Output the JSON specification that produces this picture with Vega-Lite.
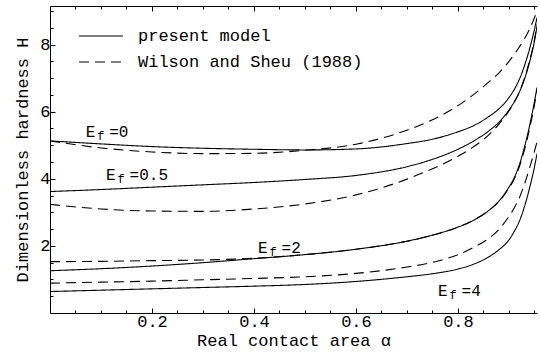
{
  "$schema": "https://vega.github.io/schema/vega-lite/v6.json",
  "width": 487,
  "height": 307,
  "autosize": {"type": "none"},
  "padding": {"left": 50, "top": 6, "right": 3, "bottom": 47},
  "background": "white",
  "config": {
    "view": {"stroke": null},
    "font": "Liberation Mono",
    "axis": {
      "grid": false,
      "domainColor": "black",
      "domainWidth": 1,
      "tickColor": "black",
      "tickWidth": 1,
      "labelColor": "black",
      "titleColor": "black",
      "labelFont": "Liberation Mono",
      "titleFont": "Liberation Mono",
      "labelFontSize": 17,
      "titleFontSize": 17,
      "titleFontWeight": "normal"
    },
    "text": {"font": "Liberation Mono", "fontSize": 16, "color": "black"}
  },
  "datasets": {
    "curves": [
      {"Ef": "0", "model": "present model", "a": 0, "H": 5.13},
      {"Ef": "0", "model": "present model", "a": 0.1, "H": 5.04},
      {"Ef": "0", "model": "present model", "a": 0.2, "H": 4.96},
      {"Ef": "0", "model": "present model", "a": 0.3, "H": 4.91},
      {"Ef": "0", "model": "present model", "a": 0.4, "H": 4.88},
      {"Ef": "0", "model": "present model", "a": 0.5, "H": 4.86},
      {"Ef": "0", "model": "present model", "a": 0.6, "H": 4.89},
      {"Ef": "0", "model": "present model", "a": 0.7, "H": 5.05},
      {"Ef": "0", "model": "present model", "a": 0.75, "H": 5.18},
      {"Ef": "0", "model": "present model", "a": 0.8, "H": 5.4},
      {"Ef": "0", "model": "present model", "a": 0.83, "H": 5.58},
      {"Ef": "0", "model": "present model", "a": 0.86, "H": 5.85},
      {"Ef": "0", "model": "present model", "a": 0.88, "H": 6.08},
      {"Ef": "0", "model": "present model", "a": 0.9, "H": 6.42},
      {"Ef": "0", "model": "present model", "a": 0.91, "H": 6.65},
      {"Ef": "0", "model": "present model", "a": 0.92, "H": 6.95},
      {"Ef": "0", "model": "present model", "a": 0.93, "H": 7.35},
      {"Ef": "0", "model": "present model", "a": 0.94, "H": 7.85},
      {"Ef": "0", "model": "present model", "a": 0.95, "H": 8.45},
      {"Ef": "0", "model": "present model", "a": 0.955, "H": 8.8},

      {"Ef": "0", "model": "Wilson and Sheu (1988)", "a": 0, "H": 5.13},
      {"Ef": "0", "model": "Wilson and Sheu (1988)", "a": 0.1, "H": 4.92},
      {"Ef": "0", "model": "Wilson and Sheu (1988)", "a": 0.2, "H": 4.8},
      {"Ef": "0", "model": "Wilson and Sheu (1988)", "a": 0.3, "H": 4.75},
      {"Ef": "0", "model": "Wilson and Sheu (1988)", "a": 0.4, "H": 4.76},
      {"Ef": "0", "model": "Wilson and Sheu (1988)", "a": 0.5, "H": 4.85},
      {"Ef": "0", "model": "Wilson and Sheu (1988)", "a": 0.6, "H": 5.03},
      {"Ef": "0", "model": "Wilson and Sheu (1988)", "a": 0.7, "H": 5.45},
      {"Ef": "0", "model": "Wilson and Sheu (1988)", "a": 0.75, "H": 5.76},
      {"Ef": "0", "model": "Wilson and Sheu (1988)", "a": 0.8, "H": 6.18},
      {"Ef": "0", "model": "Wilson and Sheu (1988)", "a": 0.83, "H": 6.5},
      {"Ef": "0", "model": "Wilson and Sheu (1988)", "a": 0.86, "H": 6.88},
      {"Ef": "0", "model": "Wilson and Sheu (1988)", "a": 0.88, "H": 7.15},
      {"Ef": "0", "model": "Wilson and Sheu (1988)", "a": 0.9, "H": 7.5},
      {"Ef": "0", "model": "Wilson and Sheu (1988)", "a": 0.91, "H": 7.7},
      {"Ef": "0", "model": "Wilson and Sheu (1988)", "a": 0.92, "H": 7.92},
      {"Ef": "0", "model": "Wilson and Sheu (1988)", "a": 0.93, "H": 8.16},
      {"Ef": "0", "model": "Wilson and Sheu (1988)", "a": 0.94, "H": 8.45},
      {"Ef": "0", "model": "Wilson and Sheu (1988)", "a": 0.95, "H": 8.8},
      {"Ef": "0", "model": "Wilson and Sheu (1988)", "a": 0.955, "H": 9.0},

      {"Ef": "0.5", "model": "present model", "a": 0, "H": 3.62},
      {"Ef": "0.5", "model": "present model", "a": 0.1, "H": 3.68},
      {"Ef": "0.5", "model": "present model", "a": 0.2, "H": 3.75},
      {"Ef": "0.5", "model": "present model", "a": 0.3, "H": 3.82},
      {"Ef": "0.5", "model": "present model", "a": 0.4, "H": 3.89},
      {"Ef": "0.5", "model": "present model", "a": 0.5, "H": 3.98},
      {"Ef": "0.5", "model": "present model", "a": 0.6, "H": 4.1},
      {"Ef": "0.5", "model": "present model", "a": 0.7, "H": 4.36},
      {"Ef": "0.5", "model": "present model", "a": 0.75, "H": 4.58},
      {"Ef": "0.5", "model": "present model", "a": 0.8, "H": 4.88},
      {"Ef": "0.5", "model": "present model", "a": 0.83, "H": 5.12},
      {"Ef": "0.5", "model": "present model", "a": 0.86, "H": 5.42},
      {"Ef": "0.5", "model": "present model", "a": 0.88, "H": 5.68},
      {"Ef": "0.5", "model": "present model", "a": 0.9, "H": 6.05},
      {"Ef": "0.5", "model": "present model", "a": 0.91, "H": 6.28},
      {"Ef": "0.5", "model": "present model", "a": 0.92, "H": 6.57},
      {"Ef": "0.5", "model": "present model", "a": 0.93, "H": 6.95},
      {"Ef": "0.5", "model": "present model", "a": 0.94, "H": 7.45},
      {"Ef": "0.5", "model": "present model", "a": 0.95, "H": 8.1},
      {"Ef": "0.5", "model": "present model", "a": 0.955, "H": 8.55},

      {"Ef": "0.5", "model": "Wilson and Sheu (1988)", "a": 0, "H": 3.24},
      {"Ef": "0.5", "model": "Wilson and Sheu (1988)", "a": 0.1, "H": 3.1},
      {"Ef": "0.5", "model": "Wilson and Sheu (1988)", "a": 0.2, "H": 3.04},
      {"Ef": "0.5", "model": "Wilson and Sheu (1988)", "a": 0.3, "H": 3.03},
      {"Ef": "0.5", "model": "Wilson and Sheu (1988)", "a": 0.4, "H": 3.1},
      {"Ef": "0.5", "model": "Wilson and Sheu (1988)", "a": 0.5, "H": 3.25},
      {"Ef": "0.5", "model": "Wilson and Sheu (1988)", "a": 0.6, "H": 3.52},
      {"Ef": "0.5", "model": "Wilson and Sheu (1988)", "a": 0.7, "H": 3.99},
      {"Ef": "0.5", "model": "Wilson and Sheu (1988)", "a": 0.75, "H": 4.3},
      {"Ef": "0.5", "model": "Wilson and Sheu (1988)", "a": 0.8, "H": 4.67},
      {"Ef": "0.5", "model": "Wilson and Sheu (1988)", "a": 0.83, "H": 4.95},
      {"Ef": "0.5", "model": "Wilson and Sheu (1988)", "a": 0.86, "H": 5.3},
      {"Ef": "0.5", "model": "Wilson and Sheu (1988)", "a": 0.88, "H": 5.62},
      {"Ef": "0.5", "model": "Wilson and Sheu (1988)", "a": 0.9, "H": 6.02},
      {"Ef": "0.5", "model": "Wilson and Sheu (1988)", "a": 0.91, "H": 6.27},
      {"Ef": "0.5", "model": "Wilson and Sheu (1988)", "a": 0.92, "H": 6.58},
      {"Ef": "0.5", "model": "Wilson and Sheu (1988)", "a": 0.93, "H": 6.98},
      {"Ef": "0.5", "model": "Wilson and Sheu (1988)", "a": 0.94, "H": 7.5},
      {"Ef": "0.5", "model": "Wilson and Sheu (1988)", "a": 0.95, "H": 8.15},
      {"Ef": "0.5", "model": "Wilson and Sheu (1988)", "a": 0.955, "H": 8.6},

      {"Ef": "2", "model": "present model", "a": 0, "H": 1.26},
      {"Ef": "2", "model": "present model", "a": 0.1, "H": 1.32},
      {"Ef": "2", "model": "present model", "a": 0.2, "H": 1.4},
      {"Ef": "2", "model": "present model", "a": 0.3, "H": 1.5},
      {"Ef": "2", "model": "present model", "a": 0.4, "H": 1.62},
      {"Ef": "2", "model": "present model", "a": 0.5, "H": 1.74},
      {"Ef": "2", "model": "present model", "a": 0.6, "H": 1.9},
      {"Ef": "2", "model": "present model", "a": 0.7, "H": 2.14},
      {"Ef": "2", "model": "present model", "a": 0.75, "H": 2.32},
      {"Ef": "2", "model": "present model", "a": 0.8, "H": 2.56},
      {"Ef": "2", "model": "present model", "a": 0.83, "H": 2.76},
      {"Ef": "2", "model": "present model", "a": 0.86, "H": 3.05},
      {"Ef": "2", "model": "present model", "a": 0.88, "H": 3.33},
      {"Ef": "2", "model": "present model", "a": 0.9, "H": 3.75},
      {"Ef": "2", "model": "present model", "a": 0.91, "H": 4.02},
      {"Ef": "2", "model": "present model", "a": 0.92, "H": 4.4},
      {"Ef": "2", "model": "present model", "a": 0.93, "H": 4.92},
      {"Ef": "2", "model": "present model", "a": 0.94, "H": 5.55},
      {"Ef": "2", "model": "present model", "a": 0.95, "H": 6.3},
      {"Ef": "2", "model": "present model", "a": 0.955, "H": 6.72},

      {"Ef": "2", "model": "Wilson and Sheu (1988)", "a": 0, "H": 1.53},
      {"Ef": "2", "model": "Wilson and Sheu (1988)", "a": 0.1, "H": 1.54},
      {"Ef": "2", "model": "Wilson and Sheu (1988)", "a": 0.2, "H": 1.56},
      {"Ef": "2", "model": "Wilson and Sheu (1988)", "a": 0.3, "H": 1.58},
      {"Ef": "2", "model": "Wilson and Sheu (1988)", "a": 0.4, "H": 1.63},
      {"Ef": "2", "model": "Wilson and Sheu (1988)", "a": 0.5, "H": 1.74},
      {"Ef": "2", "model": "Wilson and Sheu (1988)", "a": 0.6, "H": 1.9},
      {"Ef": "2", "model": "Wilson and Sheu (1988)", "a": 0.7, "H": 2.14},
      {"Ef": "2", "model": "Wilson and Sheu (1988)", "a": 0.75, "H": 2.32},
      {"Ef": "2", "model": "Wilson and Sheu (1988)", "a": 0.8, "H": 2.56},
      {"Ef": "2", "model": "Wilson and Sheu (1988)", "a": 0.83, "H": 2.76},
      {"Ef": "2", "model": "Wilson and Sheu (1988)", "a": 0.86, "H": 3.05},
      {"Ef": "2", "model": "Wilson and Sheu (1988)", "a": 0.88, "H": 3.32},
      {"Ef": "2", "model": "Wilson and Sheu (1988)", "a": 0.9, "H": 3.72},
      {"Ef": "2", "model": "Wilson and Sheu (1988)", "a": 0.91, "H": 3.98},
      {"Ef": "2", "model": "Wilson and Sheu (1988)", "a": 0.92, "H": 4.34},
      {"Ef": "2", "model": "Wilson and Sheu (1988)", "a": 0.93, "H": 4.84},
      {"Ef": "2", "model": "Wilson and Sheu (1988)", "a": 0.94, "H": 5.46},
      {"Ef": "2", "model": "Wilson and Sheu (1988)", "a": 0.95, "H": 6.2},
      {"Ef": "2", "model": "Wilson and Sheu (1988)", "a": 0.955, "H": 6.62},

      {"Ef": "4", "model": "present model", "a": 0, "H": 0.64},
      {"Ef": "4", "model": "present model", "a": 0.1, "H": 0.68},
      {"Ef": "4", "model": "present model", "a": 0.2, "H": 0.72},
      {"Ef": "4", "model": "present model", "a": 0.3, "H": 0.76},
      {"Ef": "4", "model": "present model", "a": 0.4, "H": 0.8},
      {"Ef": "4", "model": "present model", "a": 0.5, "H": 0.85},
      {"Ef": "4", "model": "present model", "a": 0.6, "H": 0.94},
      {"Ef": "4", "model": "present model", "a": 0.7, "H": 1.08},
      {"Ef": "4", "model": "present model", "a": 0.75, "H": 1.17},
      {"Ef": "4", "model": "present model", "a": 0.8, "H": 1.31},
      {"Ef": "4", "model": "present model", "a": 0.83, "H": 1.45},
      {"Ef": "4", "model": "present model", "a": 0.86, "H": 1.67},
      {"Ef": "4", "model": "present model", "a": 0.88, "H": 1.88},
      {"Ef": "4", "model": "present model", "a": 0.9, "H": 2.18},
      {"Ef": "4", "model": "present model", "a": 0.91, "H": 2.42},
      {"Ef": "4", "model": "present model", "a": 0.92, "H": 2.72},
      {"Ef": "4", "model": "present model", "a": 0.93, "H": 3.15},
      {"Ef": "4", "model": "present model", "a": 0.94, "H": 3.7},
      {"Ef": "4", "model": "present model", "a": 0.95, "H": 4.35},
      {"Ef": "4", "model": "present model", "a": 0.955, "H": 4.75},

      {"Ef": "4", "model": "Wilson and Sheu (1988)", "a": 0, "H": 0.89},
      {"Ef": "4", "model": "Wilson and Sheu (1988)", "a": 0.1, "H": 0.92},
      {"Ef": "4", "model": "Wilson and Sheu (1988)", "a": 0.2, "H": 0.95},
      {"Ef": "4", "model": "Wilson and Sheu (1988)", "a": 0.3, "H": 0.99},
      {"Ef": "4", "model": "Wilson and Sheu (1988)", "a": 0.4, "H": 1.03},
      {"Ef": "4", "model": "Wilson and Sheu (1988)", "a": 0.5, "H": 1.08},
      {"Ef": "4", "model": "Wilson and Sheu (1988)", "a": 0.6, "H": 1.18},
      {"Ef": "4", "model": "Wilson and Sheu (1988)", "a": 0.7, "H": 1.37},
      {"Ef": "4", "model": "Wilson and Sheu (1988)", "a": 0.75, "H": 1.51},
      {"Ef": "4", "model": "Wilson and Sheu (1988)", "a": 0.8, "H": 1.74},
      {"Ef": "4", "model": "Wilson and Sheu (1988)", "a": 0.83, "H": 1.95},
      {"Ef": "4", "model": "Wilson and Sheu (1988)", "a": 0.86, "H": 2.22},
      {"Ef": "4", "model": "Wilson and Sheu (1988)", "a": 0.88, "H": 2.48},
      {"Ef": "4", "model": "Wilson and Sheu (1988)", "a": 0.9, "H": 2.88},
      {"Ef": "4", "model": "Wilson and Sheu (1988)", "a": 0.91, "H": 3.12},
      {"Ef": "4", "model": "Wilson and Sheu (1988)", "a": 0.92, "H": 3.42},
      {"Ef": "4", "model": "Wilson and Sheu (1988)", "a": 0.93, "H": 3.82},
      {"Ef": "4", "model": "Wilson and Sheu (1988)", "a": 0.94, "H": 4.3},
      {"Ef": "4", "model": "Wilson and Sheu (1988)", "a": 0.95, "H": 4.82},
      {"Ef": "4", "model": "Wilson and Sheu (1988)", "a": 0.955, "H": 5.1}
    ],
    "tags": [
      {"a": 0.07, "H": 5.25, "val": "=0"},
      {"a": 0.11, "H": 3.95, "val": "=0.5"},
      {"a": 0.408, "H": 1.8, "val": "=2"},
      {"a": 0.761, "H": 0.51, "val": "=4"}
    ]
  },
  "layer": [
    {
      "data": {"name": "curves"},
      "mark": {"type": "line", "interpolate": "monotone", "color": "black", "strokeWidth": 1.1, "clip": true},
      "encoding": {
        "x": {
          "field": "a", "type": "quantitative",
          "scale": {"domain": [0, 0.955], "nice": false, "zero": false},
          "axis": {"orient": "bottom", "values": [0.2, 0.4, 0.6, 0.8], "format": ".1f", "tickSize": -5, "labelPadding": 5, "title": "Real contact area α", "titlePadding": 3}
        },
        "y": {
          "field": "H", "type": "quantitative",
          "scale": {"domain": [0, 9.15], "nice": false},
          "axis": {"orient": "left", "values": [2, 4, 6, 8], "tickSize": -5, "labelPadding": 5, "title": "Dimensionless hardness H", "titlePadding": 8}
        },
        "detail": {"field": "Ef"},
        "strokeDash": {
          "field": "model", "type": "nominal",
          "scale": {"domain": ["present model", "Wilson and Sheu (1988)"], "range": [[1, 0], [10, 6]]},
          "legend": {
            "orient": "none", "legendX": 28, "legendY": 17, "title": null, "padding": 0,
            "symbolType": "stroke", "symbolSize": 1936, "symbolStrokeWidth": 1.1, "symbolStrokeColor": "black",
            "clipHeight": 26, "rowPadding": 0, "labelOffset": 14, "labelLimit": 400,
            "labelFont": "Liberation Mono", "labelFontSize": 17, "labelColor": "black"
          }
        }
      }
    },
    {
      "data": {"name": "tags"},
      "mark": {"type": "text", "align": "left", "baseline": "alphabetic", "fontSize": 16},
      "encoding": {
        "x": {"field": "a", "type": "quantitative",
          "axis": {"orient": "bottom", "values": [0.05, 0.1, 0.15, 0.25, 0.3, 0.35, 0.45, 0.5, 0.55, 0.65, 0.7, 0.75, 0.85, 0.9, 0.95], "tickSize": -3, "labels": false, "domain": false, "title": null}},
        "y": {"field": "H", "type": "quantitative",
          "axis": {"orient": "left", "values": [0.5, 1, 1.5, 2.5, 3, 3.5, 4.5, 5, 5.5, 6.5, 7, 7.5, 8.5, 9], "tickSize": -3, "labels": false, "domain": false, "title": null}},
        "text": {"value": "E"}
      }
    },
    {
      "data": {"name": "tags"},
      "mark": {"type": "text", "align": "left", "baseline": "alphabetic", "fontSize": 12, "dx": 11.5, "dy": 3},
      "encoding": {
        "x": {"field": "a", "type": "quantitative",
          "axis": {"orient": "top", "values": [0.2, 0.4, 0.6, 0.8], "tickSize": -5, "labels": false, "domain": true, "title": null}},
        "y": {"field": "H", "type": "quantitative", "axis": null},
        "text": {"value": "f"}
      }
    },
    {
      "data": {"name": "tags"},
      "mark": {"type": "text", "align": "left", "baseline": "alphabetic", "fontSize": 16, "dx": 23.5},
      "encoding": {
        "x": {"field": "a", "type": "quantitative",
          "axis": {"orient": "top", "values": [0.05, 0.1, 0.15, 0.25, 0.3, 0.35, 0.45, 0.5, 0.55, 0.65, 0.7, 0.75, 0.85, 0.9, 0.95], "tickSize": -3, "labels": false, "domain": false, "title": null}},
        "y": {"field": "H", "type": "quantitative", "axis": null},
        "text": {"field": "val"}
      }
    }
  ],
  "resolve": {"axis": {"x": "independent", "y": "independent"}}
}
